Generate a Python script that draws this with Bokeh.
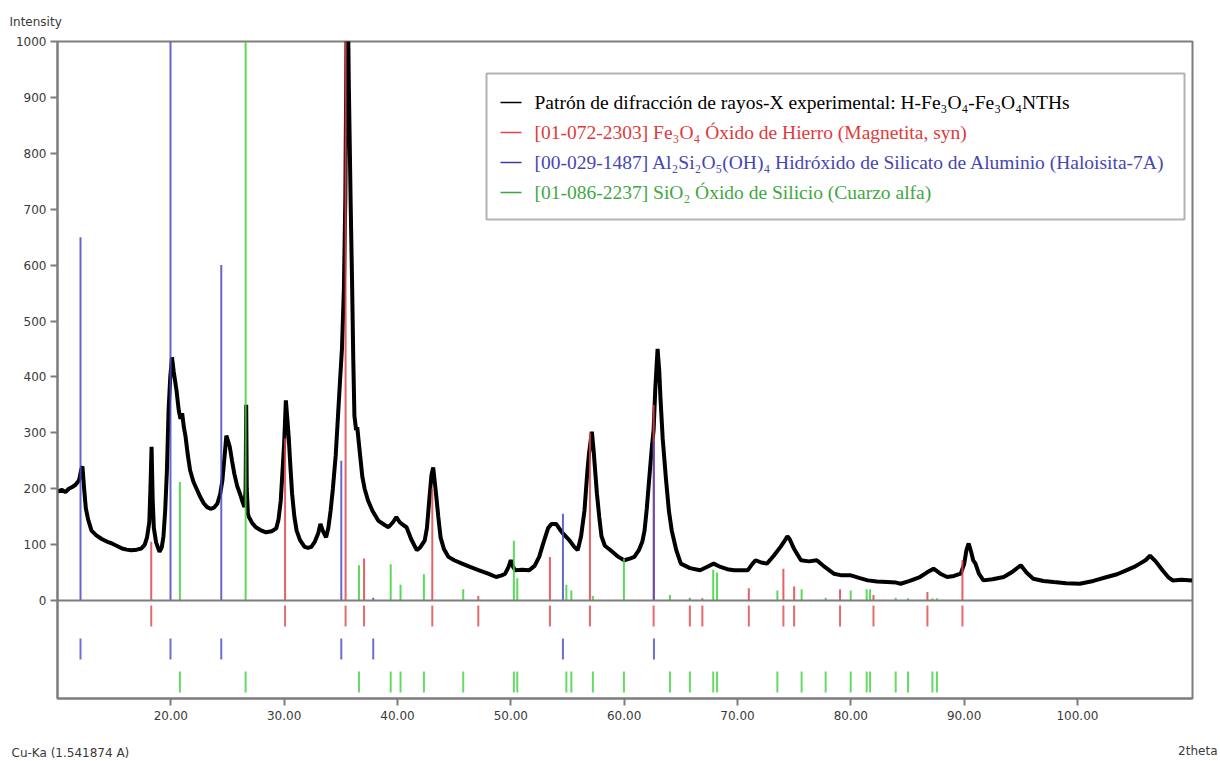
from bokeh.plotting import figure
from bokeh.models import Range1d, FixedTicker, Label, BoxAnnotation, Span, NumeralTickFormatter
from bokeh.layouts import column
from bokeh.core.properties import value
from bokeh.embed import file_html
from bokeh.resources import INLINE

# ---------------- data ----------------
two_theta = [10.0, 10.4, 10.7, 11.0, 11.3, 11.6, 11.9, 12.1, 12.2, 12.35, 12.5, 12.7, 13.0, 13.4,
             13.9, 14.4, 14.8, 15.3, 15.7, 16.1, 16.5, 17.0, 17.4, 17.7, 17.9, 18.1, 18.2, 18.3,
             18.4, 18.5, 18.7, 19.0, 19.2, 19.35, 19.5, 19.65, 19.8, 19.95, 20.1, 20.25, 20.5,
             20.7, 20.85, 21.0, 21.15, 21.3, 21.5, 21.7, 22.0, 22.2, 22.6, 22.9, 23.2, 23.5, 23.8,
             24.1, 24.35, 24.55, 24.75, 24.9, 25.05, 25.2, 25.4, 25.6, 25.85, 26.1, 26.3, 26.5,
             26.6, 26.65, 26.7, 26.8, 26.9, 27.2, 27.5, 27.9, 28.4, 28.9, 29.3, 29.5, 29.7, 29.85,
             30.0, 30.15, 30.3, 30.4, 30.55, 30.7, 30.9, 31.1, 31.4, 31.8, 32.1, 32.4, 32.7, 33.0,
             33.2, 33.4, 33.7, 33.9, 34.1, 34.3, 34.55, 34.75, 34.95, 35.1, 35.27, 35.4, 35.5,
             35.6, 35.7, 35.86, 36.0, 36.1, 36.2, 36.35, 36.45, 36.6, 36.9, 37.1, 37.4, 37.8,
             38.3, 38.8, 39.2, 39.6, 39.9, 40.2, 40.5, 40.8, 41.2, 41.7, 42.0, 42.4, 42.6, 42.8,
             43.0, 43.15, 43.3, 43.4, 43.6, 43.8, 44.1, 44.5, 45.0, 45.7, 46.4, 47.2, 48.0, 48.7,
             49.2, 49.5, 49.8, 50.0, 50.2, 50.4, 51.0, 51.6, 52.1, 52.5, 52.9, 53.3, 53.6, 54.0,
             54.3, 54.6, 55.2, 55.6, 55.9, 56.2, 56.5, 56.75, 56.9, 57.15, 57.3, 57.45, 57.6,
             57.8, 58.0, 58.3, 58.8, 59.5, 60.0, 60.5, 60.9, 61.3, 61.6, 61.8, 62.0, 62.2, 62.45,
             62.6, 62.75, 62.95, 63.1, 63.2, 63.4, 63.7, 63.95, 64.2, 64.6, 65.0, 65.8, 66.7,
             67.3, 67.9, 68.5, 69.1, 69.7, 70.3, 70.9, 71.3, 71.6, 72.1, 72.6, 73.2, 73.8, 74.2,
             74.4, 74.6, 75.0, 75.6, 76.3, 77.0, 77.7, 78.5, 79.2, 80.0, 80.8, 81.5, 82.3, 83.2,
             84.0, 84.4, 85.2, 86.1, 86.7, 87.3, 87.9, 88.5, 89.1, 89.7, 90.0, 90.2, 90.4, 90.6,
             90.8, 91.0, 91.3, 91.7, 92.5, 93.5, 94.3, 95.0, 95.5, 96.1, 97.0, 97.9, 99.0, 100.2,
             101.4, 102.6, 103.5, 104.3, 105.0, 105.5, 106.0, 106.4, 106.9, 107.5, 108.0, 108.4,
             109.2, 110.1]
intensity = [195, 198, 194, 200, 203, 207, 215, 235, 240, 200, 165, 145, 125, 117,
             110, 105, 102, 97, 93, 91, 90, 91, 93, 100, 113, 140, 200, 275,
             180, 130, 104, 87, 95, 115, 160, 230, 340, 400, 435, 410, 376,
             340, 325, 335, 310, 293, 260, 233, 212, 203, 185, 174, 167, 164, 166,
             173, 190, 215, 260, 295, 285, 275, 250, 227, 205, 191, 178, 167,
             200, 350, 200, 155, 149, 138, 131, 126, 122, 124, 129, 145, 179, 230,
             281, 358, 320, 293, 240, 191, 150, 125, 108, 96, 94, 96, 105, 120,
             137, 125, 113, 130, 161, 200, 260, 330, 400, 450, 557, 723, 1000,
             1120, 930, 720, 560, 430, 330, 305, 310, 280, 221, 200, 179, 160,
             143, 136, 131, 140, 149, 140, 135, 131, 110, 90, 95, 107, 130, 179,
             225, 238, 210, 191, 150, 113, 92, 78, 72, 66, 60, 54, 48, 42,
             45, 48, 60, 72, 60, 54, 55, 54, 62, 78, 105, 130, 137, 137,
             128, 120, 107, 96, 90, 115, 161, 230, 263, 302, 270, 230, 191,
             150, 115, 98, 90, 78, 72, 75, 78, 90, 105, 125, 165, 215, 275,
             305, 380, 450, 410, 364, 290, 215, 160, 125, 90, 66, 58, 54,
             60, 66, 60, 56, 54, 54, 54, 65, 72, 68, 66, 80, 96, 108,
             115, 110, 92, 72, 70, 72, 60, 48, 45, 45, 40, 36, 34, 33,
             32, 30, 35, 42, 50, 57, 48, 42, 44, 48, 65, 90, 102, 88,
             72, 66, 48, 36, 38, 42, 52, 63, 50, 39, 35, 33, 31, 30,
             35, 42, 47, 54, 60, 66, 72, 80, 70, 54, 42, 36,
             37, 36]

# [01-072-2303] Fe3O4 magnetite
magnetite_pos = [18.27, 30.08, 35.42, 37.05, 43.07, 47.13, 53.45, 56.98, 62.6, 65.8, 66.9,
                 71.0, 74.05, 75.0, 79.05, 82.0, 86.76, 89.85]
magnetite_int = [105, 290, 1000, 75, 200, 8, 78, 300, 350, 4, 4,
                 22, 57, 25, 20, 10, 15, 72]
# [00-029-1487] halloysite-7A
halloysite_pos = [12.03, 19.97, 24.45, 35.04, 37.86, 54.6, 62.63]
halloysite_int = [650, 1000, 600, 250, 5, 155, 285]
# [01-086-2237] quartz
quartz_pos = [20.8, 26.6, 36.6, 39.4, 40.27, 42.33, 45.8, 50.27, 50.57, 54.9, 55.34, 57.24,
              59.98, 64.04, 65.8, 67.86, 68.2, 73.52, 75.66, 77.78, 79.99, 81.4, 81.7, 83.96,
              85.05, 87.2, 87.6]
quartz_int = [212, 1000, 63, 65, 28, 47, 20, 107, 40, 28, 18, 8,
              75, 10, 5, 55, 50, 18, 20, 5, 18, 20, 20, 5,
              4, 4, 4]

x_ticks = [20, 30, 40, 50, 60, 70, 80, 90, 100]
y_ticks = [0, 100, 200, 300, 400, 500, 600, 700, 800, 900, 1000]

legend_texts = [
    "Patrón de difracción de rayos-X experimental: H-Fe₃O₄-Fe₃O₄NTHs",
    "[01-072-2303] Fe₃O₄ Óxido de Hierro (Magnetita, syn)",
    "[00-029-1487] Al₂Si₂O₅(OH)₄ Hidróxido de Silicato de Aluminio (Haloisita-7A)",
    "[01-086-2237] SiO₂ Óxido de Silicio (Cuarzo alfa)",
]
y_title = "Intensity"
x_title = "2theta"
source_note = "Cu-Ka (1.541874 A)"

# ---------------- styling / layout ----------------
W = 1220
TOP_H = 31          # strip above the main figure
BOT_H = 33          # strip below the main figure
MAIN_H = 761 - TOP_H - BOT_H
FL, FR = 57, 1192   # frame left/right in pixels
FT, FB = 41 - TOP_H, 698 - TOP_H   # frame top/bottom inside the main figure
X0, X1 = 10.0, 110.15
Y0, Y1 = -175.3, 1000.0

def dx(px):
    return X0 + (px - FL) * (X1 - X0) / (FR - FL)

def dy(py):  # py measured in page pixels
    py = py - TOP_H
    return Y1 - (py - FT) * (Y1 - Y0) / (FB - FT)

RED, BLUE, GREEN = "#e2454a", "#4b4bc8", "#3fd23f"
GRAY = "#7d7d7d"
LBL = "#3a3a3a"

p = figure(width=W, height=MAIN_H, x_range=Range1d(X0, X1), y_range=Range1d(Y0, Y1),
           output_backend="svg", toolbar_location=None,
           min_border_left=FL, min_border_right=W - FR,
           min_border_top=FT, min_border_bottom=MAIN_H - FB)
p.frame_align = False
p.grid.visible = False
p.background_fill_color = "white"
p.border_fill_color = "white"
p.outline_line_color = GRAY
p.outline_line_width = 2

for ax in (p.xaxis[0], p.yaxis[0]):
    ax.axis_line_color = GRAY
    ax.axis_line_width = 2
    ax.major_tick_line_color = GRAY
    ax.major_tick_line_width = 2
    ax.major_tick_out = 7
    ax.major_tick_in = 0
    ax.minor_tick_line_color = None
    ax.major_label_text_font = "DejaVu Sans"
    ax.major_label_text_font_size = "12px"
    ax.major_label_text_color = LBL
p.xaxis.ticker = FixedTicker(ticks=x_ticks)
p.xaxis.formatter = NumeralTickFormatter(format="0.00")
p.xaxis.major_label_standoff = 5
p.yaxis.ticker = FixedTicker(ticks=y_ticks)
p.yaxis.major_label_standoff = 4

# experimental pattern
p.line(two_theta, intensity, line_color="black", line_width=4)

# reference sticks above the baseline
p.segment(x0=magnetite_pos, y0=[0] * len(magnetite_pos), x1=magnetite_pos, y1=magnetite_int,
          line_color=RED, line_width=2, line_alpha=0.85)
p.segment(x0=halloysite_pos, y0=[0] * len(halloysite_pos), x1=halloysite_pos, y1=halloysite_int,
          line_color=BLUE, line_width=2, line_alpha=0.85)
p.segment(x0=quartz_pos, y0=[0] * len(quartz_pos), x1=quartz_pos, y1=quartz_int,
          line_color=GREEN, line_width=2, line_alpha=0.85)

# reference position markers below the baseline
rows = [(magnetite_pos, RED, 605, 626), (halloysite_pos, BLUE, 638, 659), (quartz_pos, GREEN, 671, 692)]
for pos, col, ptop, pbot in rows:
    p.segment(x0=pos, y0=[dy(ptop)] * len(pos), x1=pos, y1=[dy(pbot)] * len(pos),
              line_color=col, line_width=2, line_alpha=0.8)

# zero line
p.add_layout(Span(location=0, dimension="width", line_color=GRAY, line_width=2))

# legend
p.add_layout(BoxAnnotation(left=dx(486), right=dx(1184), top=dy(73), bottom=dy(219),
                           fill_color="white", fill_alpha=1.0, line_color="black",
                           line_width=2, level="underlay"))
leg_cols = ["black", RED, "#3a3aa8", "#3aa83a"]
txt_cols = ["black", "#e03a3a", "#4646b4", "#3fa83f"]
for i, (t, lc, tc) in enumerate(zip(legend_texts, leg_cols, txt_cols)):
    yy = 102 + 30 * i
    p.segment(x0=[dx(500)], y0=[dy(yy)], x1=[dx(521)], y1=[dy(yy)], line_color=lc, line_width=1.5)
    p.add_layout(Label(x=dx(534), y=dy(yy), text=t, text_font="Liberation Serif",
                       text_font_size="19.5px", text_color=tc, text_baseline="middle"))

# strips with the outer texts
def strip(h):
    s = figure(width=W, height=h, x_range=Range1d(0, W), y_range=Range1d(h, 0),
               output_backend="svg", toolbar_location=None,
               x_axis_location=None, y_axis_location=None,
               min_border=0, min_border_left=0, min_border_right=0,
               min_border_top=0, min_border_bottom=0)
    s.frame_align = False
    s.grid.visible = False
    s.outline_line_color = None
    s.background_fill_color = "white"
    s.border_fill_color = "white"
    return s

top = strip(TOP_H)
top.text(x=[9], y=[21], text=[y_title], text_font=value("DejaVu Sans"),
         text_font_size=value("12px"), text_color=LBL, text_baseline="middle")

bot = strip(BOT_H)
bot.text(x=[11], y=[752 - (TOP_H + MAIN_H)], text=[source_note], text_font=value("DejaVu Sans"),
         text_font_size=value("12px"), text_color=LBL, text_baseline="middle")
bot.text(x=[1217], y=[750 - (TOP_H + MAIN_H)], text=[x_title], text_font=value("DejaVu Sans"),
         text_font_size=value("12px"), text_color=LBL, text_baseline="middle", text_align="right")

layout = column(top, p, bot, spacing=0)
open("out.html", "w").write(file_html(layout, INLINE))
